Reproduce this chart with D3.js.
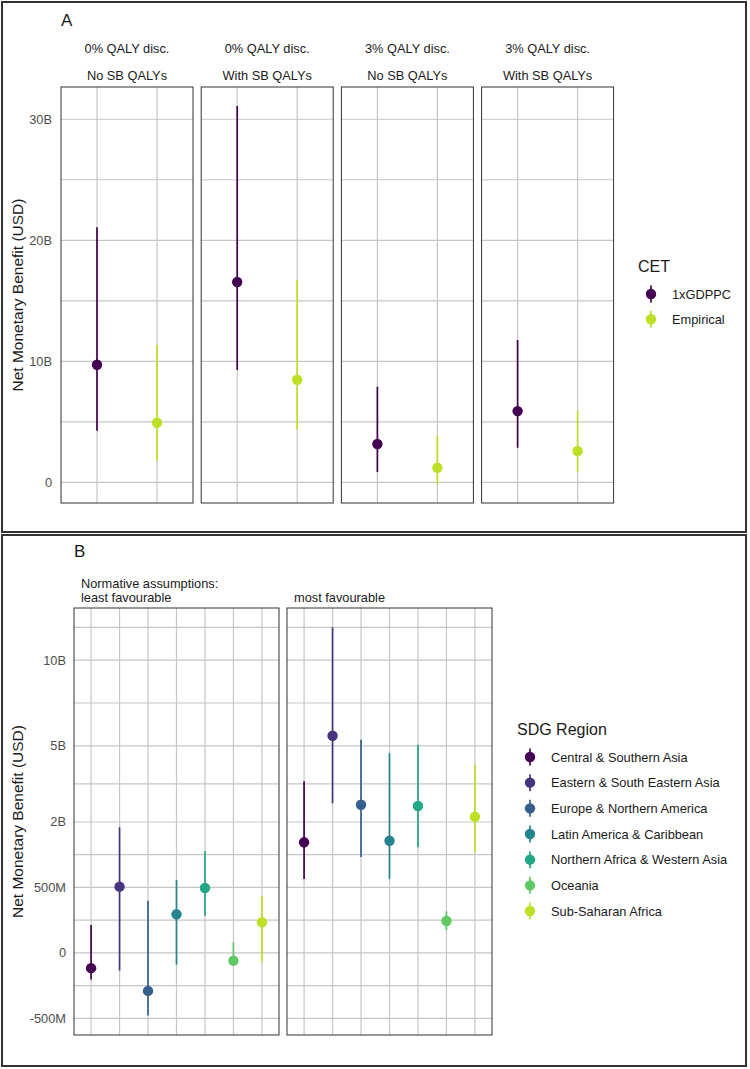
<!DOCTYPE html>
<html><head><meta charset="utf-8">
<script src="https://cdn.jsdelivr.net/npm/d3@7"></script>
<style>body{margin:0;background:#fff} svg{display:block;font-family:"Liberation Sans",Arial,Helvetica,sans-serif}</style>
</head><body>
<svg id="chart" width="750" height="1069"></svg>
<script>
// ---------- Panel A data (billions USD) ----------
const facetsA = [["0% QALY disc.","No SB QALYs"],["0% QALY disc.","With SB QALYs"],["3% QALY disc.","No SB QALYs"],["3% QALY disc.","With SB QALYs"]];
const cetLevels = ["1xGDPPC","Empirical"];
const gdppcMid  = [9.72, 16.55, 3.17, 5.89];
const gdppcLow  = [4.27, 9.28, 0.85, 2.86];
const gdppcHigh = [21.07, 31.1, 7.9, 11.76];
const empMid  = [4.93, 8.48, 1.21, 2.59];
const empLow  = [1.79, 4.38, -0.14, 0.88];
const empHigh = [11.35, 16.72, 3.85, 5.89];
const ticksA = [0, 10, 20, 30];
const tickLabelsA = ["0","10B","20B","30B"];

// ---------- Panel B data (millions USD) ----------
const regions = ["Central & Southern Asia","Eastern & South Eastern Asia","Europe & Northern America","Latin America & Caribbean","Northern Africa & Western Asia","Oceania","Sub-Saharan Africa"];
const facetsB = [["Normative assumptions:","least favourable"],["most favourable"]];
const leastMid  = [-27, 512, -168, 174, 492, -7, 110];
const leastLow  = [-83, -36, -458, -16, 162, -12, -9];
const leastHigh = [91, 1841, 319, 621, 1204, 13, 374];
const mostMid  = [1427, 5500, 2562, 1469, 2517, 119, 2164];
const mostLow  = [638, 2610, 1073, 638, 1301, 60, 1181];
const mostHigh = [3434, 12360, 5300, 4660, 5055, 200, 4117];
const ticksB = [-500, 0, 500, 2000, 5000, 10000];
const tickLabelsB = ["-500M","0","500M","2B","5B","10B"];

const colA = [d3.interpolateViridis(0), d3.interpolateViridis(0.9)];
const colB = regions.map((r,i)=>d3.interpolateViridis(i*0.15));

const svg = d3.select("#chart");
const TXT = "#1a1a1a", TICK = "#4d4d4d", GRID = "#c6c6c6", BORDER = "#333";
const FS = 12.8;

// outer boxes
svg.append("rect").attr("x",2).attr("y",2).attr("width",744).attr("height",530).attr("fill","none").attr("stroke",BORDER).attr("stroke-width",2);
svg.append("rect").attr("x",2).attr("y",535).attr("width",744).attr("height",531).attr("fill","none").attr("stroke",BORDER).attr("stroke-width",2);

function minorBreaks(tv, lo, hi){ // tv: transformed majors
  const bd = tv[1]-tv[0];
  let b = tv.slice();
  if (lo < b[0]) b = [b[0]-bd, ...b];
  if (hi > b[b.length-1]) b = [...b, b[b.length-1]+bd];
  const out=[];
  for(let i=0;i<b.length-1;i++) out.push((b[i]+b[i+1])/2);
  return out.filter(v=>v>lo && v<hi);
}

// ================= PANEL A =================
(function(){
  const top=87, bottom=503, left0=61, w=132, step=140.2;
  const all = [...gdppcLow, ...gdppcHigh, ...empLow, ...empHigh];
  const [mn,mx] = d3.extent(all); const sp = mx-mn;
  const y = d3.scaleLinear().domain([mn-0.05*sp, mx+0.05*sp]).range([bottom, top]);
  const minors = minorBreaks(ticksA, y.domain()[0], y.domain()[1]);
  const g = svg.append("g");
  g.append("text").attr("x",61).attr("y",26).attr("font-size",17).attr("fill",TXT).text("A");
  ticksA.forEach((t,i)=>g.append("text").attr("x",52).attr("y",y(t)+4.4).attr("text-anchor","end")
     .attr("font-size",FS).attr("fill",TICK).text(tickLabelsA[i]));
  g.append("text").attr("transform",`translate(23,${(top+bottom)/2}) rotate(-90)`).attr("text-anchor","middle")
     .attr("font-size",15.5).attr("fill",TXT).text("Net Monetary Benefit (USD)");
  facetsA.forEach((f,k)=>{
    const L = left0 + k*step;
    const x = d3.scalePoint().domain(cetLevels).range([L, L+w]).padding(0.6);
    const p = g.append("g");
    [...minors, ...ticksA].forEach(v=>p.append("line").attr("x1",L).attr("x2",L+w).attr("y1",y(v)).attr("y2",y(v)).attr("stroke",GRID).attr("stroke-width",1.2));
    cetLevels.forEach(c=>p.append("line").attr("x1",x(c)).attr("x2",x(c)).attr("y1",top).attr("y2",bottom).attr("stroke",GRID).attr("stroke-width",1.2));
    const rows = [
      {c:cetLevels[0], m:gdppcMid[k], lo:gdppcLow[k], hi:gdppcHigh[k], col:colA[0]},
      {c:cetLevels[1], m:empMid[k], lo:empLow[k], hi:empHigh[k], col:colA[1]}];
    rows.forEach(r=>{
      p.append("line").attr("x1",x(r.c)).attr("x2",x(r.c)).attr("y1",y(r.lo)).attr("y2",y(r.hi)).attr("stroke",r.col).attr("stroke-width",1.7);
      p.append("circle").attr("cx",x(r.c)).attr("cy",y(r.m)).attr("r",5.2).attr("fill",r.col);
    });
    p.append("rect").attr("x",L).attr("y",top).attr("width",w).attr("height",bottom-top).attr("fill","none").attr("stroke",BORDER).attr("stroke-width",1);
    p.append("text").attr("x",L+w/2).attr("y",52.5).attr("text-anchor","middle").attr("font-size",FS).attr("fill",TXT).text(f[0]);
    p.append("text").attr("x",L+w/2).attr("y",79.5).attr("text-anchor","middle").attr("font-size",FS).attr("fill",TXT).text(f[1]);
  });
  const lg = g.append("g");
  lg.append("text").attr("x",638).attr("y",271.5).attr("font-size",16).attr("fill",TXT).text("CET");
  cetLevels.forEach((c,i)=>{
    const cy = 294 + i*25.3;
    lg.append("line").attr("x1",651).attr("x2",651).attr("y1",cy-8.5).attr("y2",cy+8.5).attr("stroke",colA[i]).attr("stroke-width",1.7);
    lg.append("circle").attr("cx",651).attr("cy",cy).attr("r",5.2).attr("fill",colA[i]);
    lg.append("text").attr("x",672).attr("y",cy+4.5).attr("font-size",FS).attr("fill",TXT).text(c);
  });
})();

// ================= PANEL B =================
(function(){
  const top=608, bottom=1035, left0=74, w=205, step=213;
  const t = v=>Math.sign(v)*Math.sqrt(Math.abs(v));
  const all = [...leastLow, ...leastHigh, ...mostLow, ...mostHigh].map(t);
  const [mn,mx] = d3.extent(all); const sp = mx-mn;
  const tinv = u=>Math.sign(u)*u*u;
  const y = d3.scaleSqrt().domain([tinv(mn-0.05*sp), tinv(mx+0.05*sp)]).range([bottom, top]);
  const minors = minorBreaks(ticksB.map(t), mn-0.05*sp, mx+0.05*sp).map(tinv);
  const g = svg.append("g");
  g.append("text").attr("x",74).attr("y",557).attr("font-size",17).attr("fill",TXT).text("B");
  ticksB.forEach((v,i)=>g.append("text").attr("x",66).attr("y",y(v)+4.4).attr("text-anchor","end")
     .attr("font-size",FS).attr("fill",TICK).text(tickLabelsB[i]));
  g.append("text").attr("transform",`translate(23,${(top+bottom)/2}) rotate(-90)`).attr("text-anchor","middle")
     .attr("font-size",15.5).attr("fill",TXT).text("Net Monetary Benefit (USD)");
  const sets = [[leastMid,leastLow,leastHigh],[mostMid,mostLow,mostHigh]];
  facetsB.forEach((f,k)=>{
    const L = left0 + k*step;
    const x = d3.scalePoint().domain(regions).range([L, L+w]).padding(0.6);
    const p = g.append("g");
    [...minors, ...ticksB].forEach(v=>p.append("line").attr("x1",L).attr("x2",L+w).attr("y1",y(v)).attr("y2",y(v)).attr("stroke",GRID).attr("stroke-width",1.2));
    regions.forEach(c=>p.append("line").attr("x1",x(c)).attr("x2",x(c)).attr("y1",top).attr("y2",bottom).attr("stroke",GRID).attr("stroke-width",1.2));
    const [mid,lo,hi] = sets[k];
    regions.forEach((r,i)=>{
      p.append("line").attr("x1",x(r)).attr("x2",x(r)).attr("y1",y(lo[i])).attr("y2",y(hi[i])).attr("stroke",colB[i]).attr("stroke-width",1.7);
      p.append("circle").attr("cx",x(r)).attr("cy",y(mid[i])).attr("r",5.2).attr("fill",colB[i]);
    });
    p.append("rect").attr("x",L).attr("y",top).attr("width",w).attr("height",bottom-top).attr("fill","none").attr("stroke",BORDER).attr("stroke-width",1);
    f.slice().reverse().forEach((s,j)=>p.append("text").attr("x",L+7).attr("y",602 - j*13.8).attr("font-size",FS).attr("fill",TXT).text(s));
  });
  const lg = g.append("g");
  lg.append("text").attr("x",517).attr("y",734.5).attr("font-size",16).attr("fill",TXT).text("SDG Region");
  regions.forEach((c,i)=>{
    const cy = 757 + i*25.67;
    lg.append("line").attr("x1",530).attr("x2",530).attr("y1",cy-8.5).attr("y2",cy+8.5).attr("stroke",colB[i]).attr("stroke-width",1.7);
    lg.append("circle").attr("cx",530).attr("cy",cy).attr("r",5.2).attr("fill",colB[i]);
    lg.append("text").attr("x",551).attr("y",cy+4.5).attr("font-size",FS).attr("fill",TXT).text(c);
  });
})();
</script>
</body></html>
